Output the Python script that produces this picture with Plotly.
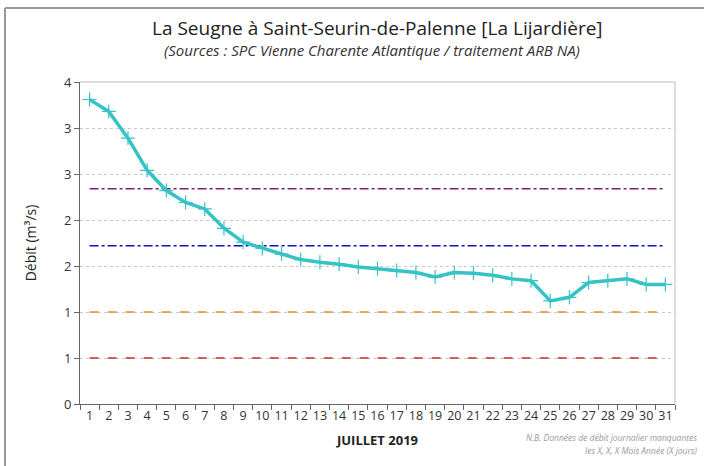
import plotly.graph_objects as go

days = [str(d) for d in range(1, 32)]
debit = [3.31, 3.18, 2.89, 2.54, 2.32, 2.19, 2.12, 1.91, 1.76, 1.69,
         1.63, 1.57, 1.54, 1.52, 1.49, 1.47, 1.45, 1.43, 1.38, 1.43,
         1.42, 1.40, 1.36, 1.34, 1.12, 1.16, 1.32, 1.34, 1.36, 1.30, 1.30]
seuil_violet = [2.34] * 31
seuil_bleu = [1.72] * 31
seuil_orange = [1.0] * 31
seuil_rouge = [0.5] * 31
y_tickvals = [0, 0.5, 1, 1.5, 2, 2.5, 3, 3.5]
y_ticktext = ["0", "1", "1", "2", "2", "3", "3", "4"]

fig = go.Figure()
for vals, color, dash in [
    (seuil_rouge, "#C8302A", "dash"),
    (seuil_orange, "#EE8A33", "dash"),
    (seuil_bleu, "#1010C8", "dashdot"),
    (seuil_violet, "#7A1E7A", "dashdot"),
]:
    fig.add_trace(go.Scatter(x=days, y=vals, mode="lines",
                             line=dict(color=color, width=1.6, dash=dash),
                             hoverinfo="skip", showlegend=False))

fig.add_trace(go.Scatter(x=days, y=debit, mode="lines+markers",
                         line=dict(color="#36C3C6", width=3.5),
                         marker=dict(symbol="cross-thin", size=10,
                                     line=dict(color="#36C3C6", width=1.2)),
                         showlegend=False))

L, R, T, B = 80, 29, 82, 62
W, H = 704, 466
pw, ph = W - L - R, H - T - B

def px(x):
    return (x - L) / pw

def py(y):
    return (H - B - y) / ph

fig.update_layout(
    width=W, height=H,
    margin=dict(l=L, r=R, t=T, b=B, autoexpand=False),
    paper_bgcolor="white", plot_bgcolor="white",
    font=dict(family="Open Sans, sans-serif", color="#333333"),
    xaxis=dict(type="category", range=[-0.5, 30.5], tickson="boundaries", ticks="outside",
               ticklen=5, tickcolor="#666666", showline=True, tickangle=0,
               linecolor="#666666", linewidth=1, showgrid=False,
               tickfont=dict(size=12.5, color="#333333"),
               title=dict(text="<b>JUILLET 2019</b>", font=dict(size=13, color="#222222"),
                          standoff=12)),
    yaxis=dict(range=[0, 3.5], tickvals=y_tickvals, ticktext=y_ticktext,
               ticks="outside", ticklen=5, tickcolor="#666666",
               showline=True, linecolor="#666666", linewidth=1,
               showgrid=True, gridcolor="#C8C8C8", griddash="dot", gridwidth=1,
               zeroline=False, tickfont=dict(size=13, color="#333333"),
               title=dict(text="Débit (m³/s)", font=dict(size=14, color="#222222"),
                          standoff=24)),
    shapes=[
        dict(type="line", xref="paper", yref="paper", x0=1, x1=1, y0=0, y1=1,
             line=dict(color="#BBBBBB", width=1)),
        dict(type="line", xref="paper", yref="paper", x0=0, x1=1, y0=1, y1=1,
             line=dict(color="#BBBBBB", width=1)),
        dict(type="line", xref="paper", yref="paper", x0=px(5), x1=px(5),
             y0=py(8), y1=py(470), line=dict(color="#999999", width=2)),
        dict(type="line", xref="paper", yref="paper", x0=px(5), x1=px(710),
             y0=py(8), y1=py(8), line=dict(color="#999999", width=2)),
    ],
    annotations=[
        dict(text="La Seugne à Saint-Seurin-de-Palenne [La Lijardière]",
             xref="paper", yref="paper", x=px(377), y=py(28), showarrow=False,
             font=dict(size=19, color="#222222"), xanchor="center", yanchor="middle"),
        dict(text="<i>(Sources : SPC Vienne Charente Atlantique / traitement ARB NA)</i>",
             xref="paper", yref="paper", x=px(372), y=py(50), showarrow=False,
             font=dict(size=15, color="#333333"), xanchor="center", yanchor="middle"),
        dict(text="<i>N.B. Données de débit journalier manquantes</i>",
             xref="paper", yref="paper", x=px(699), y=py(437), showarrow=False,
             font=dict(size=8.5, color="#999999"), xanchor="right", yanchor="middle"),
        dict(text="<i>les X, X, X Mois Année (X jours)</i>",
             xref="paper", yref="paper", x=px(699), y=py(450), showarrow=False,
             font=dict(size=8.5, color="#999999"), xanchor="right", yanchor="middle"),
    ],
)

fig.write_html("out.html", config={"displayModeBar": False},
               post_script="document.body.style.margin='0';document.body.style.overflow='hidden';")
